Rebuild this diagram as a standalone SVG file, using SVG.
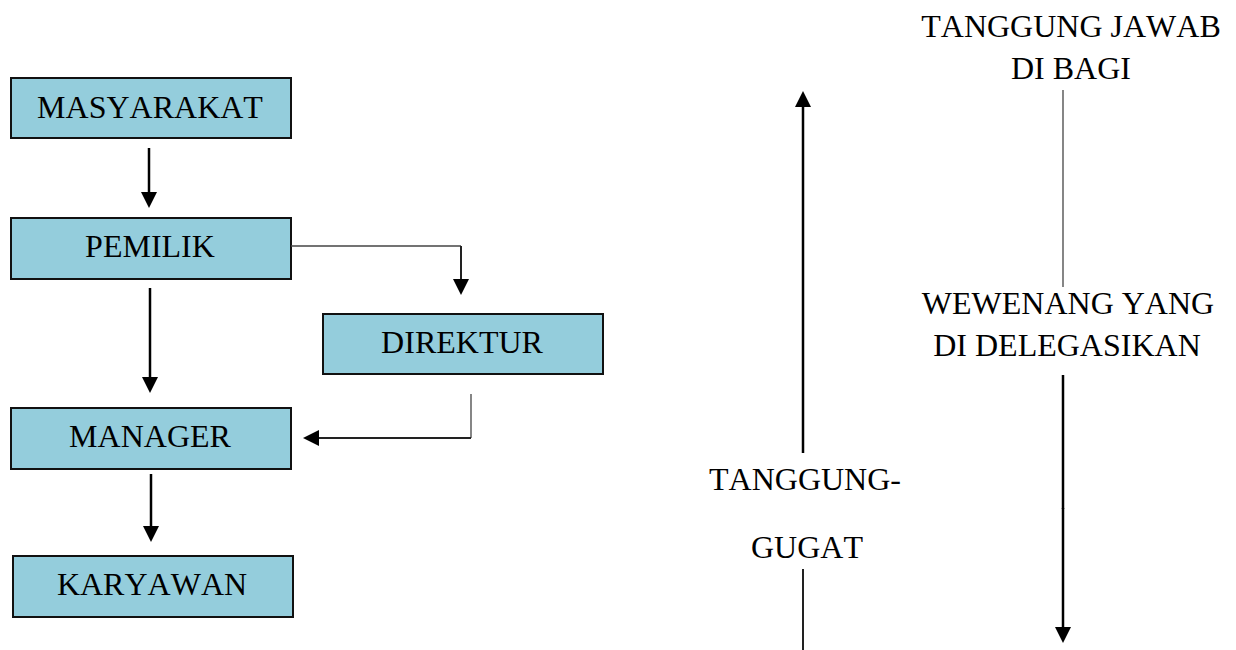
<svg xmlns="http://www.w3.org/2000/svg" width="1236" height="650" viewBox="0 0 1236 650">
<defs>
<style>
.box{fill:#94CDDC;stroke:#111;stroke-width:2}
.t{font-family:"Liberation Serif","Times New Roman",serif;font-size:32px;fill:#000;text-anchor:middle;font-kerning:none}
.thick{fill:none;stroke:#000;stroke-width:2.5}
.thin{fill:none;stroke:#444;stroke-width:1.3}
.mid{fill:none;stroke:#222;stroke-width:2}
</style>
<marker id="ah" markerUnits="userSpaceOnUse" markerWidth="16" markerHeight="16" refX="5" refY="8" orient="auto" viewBox="0 0 16 16">
<path d="M0,0 L16,8 L0,16 z" fill="#000"/>
</marker>
</defs>
<rect width="1236" height="650" fill="#fff"/>
<g id="masyarakat"><rect class="box" x="11" y="78" width="280" height="60"/><text class="t" x="150" y="118">MASYARAKAT</text></g>
<g id="pemilik"><rect class="box" x="11" y="218" width="280" height="61"/><text class="t" x="150" y="257">PEMILIK</text></g>
<g id="direktur"><rect class="box" x="323" y="314" width="280" height="60"/><text class="t" x="462" y="353">DIREKTUR</text></g>
<g id="manager"><rect class="box" x="11" y="408" width="280" height="61"/><text class="t" x="150" y="447">MANAGER</text></g>
<g id="karyawan"><rect class="box" x="13" y="556" width="280" height="61"/><text class="t" x="152" y="595">KARYAWAN</text></g>
<g id="label-tanggung-jawab"><text class="t" x="1071" y="37">TANGGUNG JAWAB</text><text class="t" x="1071" y="79">DI BAGI</text></g>
<g id="label-wewenang"><text class="t" x="1068" y="314">WEWENANG YANG</text><text class="t" x="1067" y="356">DI DELEGASIKAN</text></g>
<g id="label-tanggung-gugat"><text class="t" x="805" y="490">TANGGUNG-</text><text class="t" x="807" y="558">GUGAT</text></g>
<g id="connectors">
<line class="thick" x1="149" y1="148" x2="149" y2="197" marker-end="url(#ah)"/>
<path class="thin" d="M291,246 H461"/>
<line class="mid" x1="461" y1="246" x2="461" y2="284" marker-end="url(#ah)"/>
<line class="thick" x1="150" y1="288" x2="150" y2="382" marker-end="url(#ah)"/>
<line class="thin" x1="471" y1="394" x2="471" y2="438"/>
<line class="mid" x1="471" y1="438" x2="314" y2="438" marker-end="url(#ah)"/>
<line class="thick" x1="151" y1="474" x2="151" y2="531" marker-end="url(#ah)"/>
<line class="thick" x1="803" y1="453" x2="803" y2="102" marker-end="url(#ah)"/>
<line class="mid" x1="803" y1="569" x2="803" y2="650"/>
<line class="thin" x1="1063" y1="90" x2="1063" y2="287"/>
<line class="thick" x1="1063" y1="375" x2="1063" y2="509"/>
<line class="thick" x1="1063" y1="508" x2="1063" y2="632" marker-end="url(#ah)"/>
</g>
</svg>
